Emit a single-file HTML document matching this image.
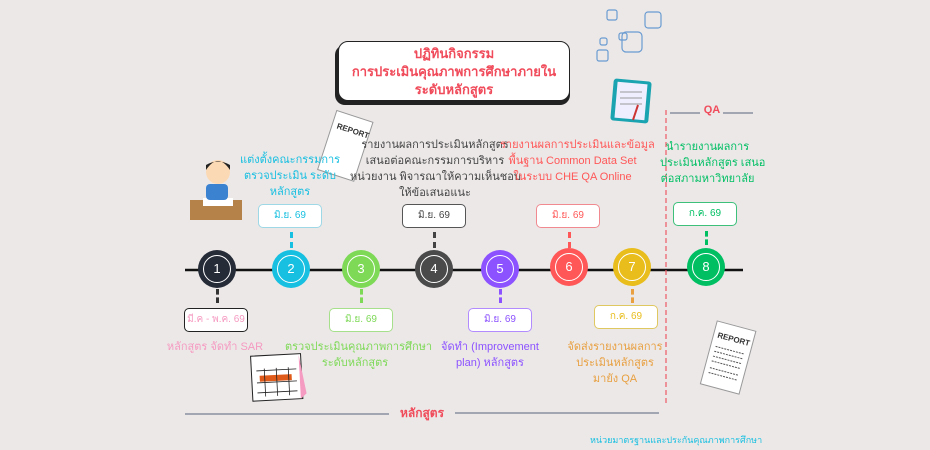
<!DOCTYPE html>
<html><head><meta charset="utf-8"><style>
body{margin:0;width:930px;height:450px;background:#ECE8E8;position:relative;overflow:hidden;font-family:"Liberation Sans","Noto Sans CJK SC",sans-serif}
.a{position:absolute;white-space:nowrap}
.t{position:absolute;text-align:center;font-size:11px;line-height:16px;white-space:nowrap}
.box{position:absolute;width:64px;height:24px;background:#fff;border-radius:5px;font-size:10px;text-align:center;line-height:22px;box-sizing:border-box;border:1.5px solid;white-space:nowrap}
.c{position:absolute;width:38px;height:38px;border-radius:50%;box-sizing:border-box}
.c span{position:absolute;left:5px;top:5px;width:28px;height:28px;border:1.5px solid #fff;border-radius:50%;box-sizing:border-box;color:#fff;font-size:13px;text-align:center;line-height:25px}
.d{position:absolute;width:0;border-left:3px dashed}
</style></head><body>
<div class="a" style="left:335px;top:45px;width:235px;height:60px;background:#222;border-radius:10px"></div>
<div class="a" style="left:338px;top:41px;width:232px;height:60px;background:#fff;border:1.5px solid #222;border-radius:10px;box-sizing:border-box;color:#F04B5A;font-weight:bold;font-size:13px;line-height:18px;text-align:center;padding-top:3px">ปฏิทินกิจกรรม<br>การประเมินคุณภาพการศึกษาภายใน<br>ระดับหลักสูตร</div>
<svg class="a" style="left:0;top:0" width="930" height="450">
<g fill="none" stroke="#6A9BD0" stroke-width="1.2">
<rect x="607" y="10" width="10" height="10" rx="2"/><rect x="645" y="12" width="16" height="16" rx="3"/><rect x="619" y="33" width="8" height="7" rx="2"/><rect x="600" y="38" width="7" height="7" rx="2"/><rect x="622" y="32" width="20" height="20" rx="4"/><rect x="597" y="50" width="11" height="11" rx="2"/></g>
<rect x="612" y="80" width="38" height="42" rx="3" fill="#1AA3B0" transform="rotate(5 631 101)"/><rect x="616" y="83" width="30" height="36" fill="#EEF" transform="rotate(5 631 101)"/><line x1="620" y1="92" x2="642" y2="92" stroke="#999"/><line x1="620" y1="98" x2="642" y2="98" stroke="#999"/><line x1="620" y1="104" x2="642" y2="104" stroke="#999"/><line x1="638" y1="105" x2="633" y2="120" stroke="#C33" stroke-width="2"/>
<g transform="rotate(18 345 150)"><rect x="325" y="115" width="38" height="62" fill="#fff" stroke="#999"/><text x="330" y="132" font-size="8" font-weight="bold" fill="#333" font-family="Liberation Sans">REPORT</text></g>
<g transform="rotate(15 728 358)"><rect x="708" y="325" width="40" height="65" fill="#fff" stroke="#999"/><text x="712" y="341" font-size="8" font-weight="bold" fill="#333" font-family="Liberation Sans">REPORT</text><g stroke="#555" stroke-width="1" stroke-dasharray="2 1"><line x1="713" y1="350" x2="743" y2="350"/><line x1="713" y1="355" x2="743" y2="355"/><line x1="713" y1="360" x2="743" y2="360"/><line x1="713" y1="365" x2="743" y2="365"/><line x1="713" y1="372" x2="743" y2="372"/><line x1="713" y1="377" x2="743" y2="377"/></g></g>
<rect x="190" y="200" width="52" height="20" fill="#B5824A"/><rect x="203" y="198" width="30" height="8" fill="#fff"/>
<circle cx="218" cy="172" r="12" fill="#FCD9B5"/><path d="M206 170 Q218 152 230 170 L230 165 Q218 158 206 165Z" fill="#222"/><rect x="206" y="184" width="22" height="16" rx="4" fill="#3B82D0"/>
<g transform="rotate(-3 275 383)"><rect x="252" y="355" width="50" height="45" fill="#fff" stroke="#222"/><polygon points="300,356 306,395 300,400" fill="#F59AC0"/><rect x="260" y="375" width="32" height="6" fill="#E05A1A"/><g stroke="#222" stroke-width=".8"><line x1="257" y1="370" x2="297" y2="370"/><line x1="257" y1="382" x2="297" y2="382"/><line x1="257" y1="392" x2="297" y2="392"/><line x1="265" y1="368" x2="265" y2="396"/><line x1="277" y1="368" x2="277" y2="396"/><line x1="289" y1="368" x2="289" y2="396"/></g></g>
<line x1="185" y1="270" x2="743" y2="270" stroke="#111" stroke-width="2.5"/>
<line x1="666" y1="110" x2="666" y2="404" stroke="#F05A66" stroke-width="1.2" stroke-dasharray="5 3"/>
<line x1="185" y1="414" x2="389" y2="414" stroke="#8890A0" stroke-width="1.5"/><line x1="455" y1="413" x2="659" y2="413" stroke="#8890A0" stroke-width="1.5"/>
<line x1="670" y1="113" x2="700" y2="113" stroke="#8890A0" stroke-width="1.5"/><line x1="723" y1="113" x2="753" y2="113" stroke="#8890A0" stroke-width="1.5"/>
</svg>
<div class="a" style="left:391px;top:404px;width:62px;text-align:center;color:#F04B5A;font-weight:bold;font-size:12px">หลักสูตร</div>
<div class="a" style="left:700px;top:104px;width:24px;text-align:center;color:#F04B5A;font-weight:bold;font-size:11px">QA</div>

<div class="d" style="left:216px;top:289px;height:14px;border-color:#333"></div>
<div class="d" style="left:290px;top:232px;height:16px;border-color:#17BFE0"></div>
<div class="d" style="left:360px;top:289px;height:14px;border-color:#7ED957"></div>
<div class="d" style="left:433px;top:232px;height:16px;border-color:#444"></div>
<div class="d" style="left:499px;top:289px;height:14px;border-color:#8C52FF"></div>
<div class="d" style="left:568px;top:232px;height:16px;border-color:#FF5757"></div>
<div class="d" style="left:631px;top:289px;height:14px;border-color:#E8A040"></div>
<div class="d" style="left:705px;top:231px;height:14px;border-color:#00BF63"></div>

<div class="c" style="left:198px;top:250px;background:#262B38"><span>1</span></div>
<div class="c" style="left:272px;top:250px;background:#17BFE0"><span>2</span></div>
<div class="c" style="left:342px;top:250px;background:#7ED957"><span>3</span></div>
<div class="c" style="left:415px;top:250px;background:#4A4A4A"><span>4</span></div>
<div class="c" style="left:481px;top:250px;background:#8C52FF"><span>5</span></div>
<div class="c" style="left:550px;top:248px;background:#FF5757"><span>6</span></div>
<div class="c" style="left:613px;top:248px;background:#E8BD1C"><span>7</span></div>
<div class="c" style="left:687px;top:248px;background:#00BF63"><span>8</span></div>

<div class="box" style="left:258px;top:204px;border-color:#9ED8E6;color:#17BFE0">มิ.ย. 69</div>
<div class="box" style="left:402px;top:204px;border-color:#555;color:#444">มิ.ย. 69</div>
<div class="box" style="left:536px;top:204px;border-color:#F08A90;color:#FF5757">มิ.ย. 69</div>
<div class="box" style="left:673px;top:202px;border-color:#3CC07A;color:#00BF63">ก.ค. 69</div>
<div class="box" style="left:184px;top:308px;border-color:#222;color:#F59AC0">มี.ค - พ.ค. 69</div>
<div class="box" style="left:329px;top:308px;border-color:#A7E08A;color:#7ED957">มิ.ย. 69</div>
<div class="box" style="left:468px;top:308px;border-color:#B28CFF;color:#8C52FF">มิ.ย. 69</div>
<div class="box" style="left:594px;top:305px;border-color:#E0C860;color:#E8BD1C">ก.ค. 69</div>

<div class="t" style="left:240px;top:152px;width:100px;color:#17BFE0">แต่งตั้งคณะกรรมการ<br>ตรวจประเมิน ระดับ<br>หลักสูตร</div>
<div class="t" style="left:350px;top:137px;width:170px;color:#444">รายงานผลการประเมินหลักสูตร<br>เสนอต่อคณะกรรมการบริหาร<br>หน่วยงาน พิจารณาให้ความเห็นชอบ<br>ให้ข้อเสนอแนะ</div>
<div class="t" style="left:500px;top:137px;width:145px;color:#FF5757">รายงานผลการประเมินและข้อมูล<br>พื้นฐาน Common Data Set<br>ในระบบ CHE QA Online</div>
<div class="t" style="left:660px;top:139px;width:95px;color:#00BF63">นำรายงานผลการ<br>ประเมินหลักสูตร เสนอ<br>ต่อสภามหาวิทยาลัย</div>
<div class="t" style="left:165px;top:339px;width:100px;color:#F59AC0">หลักสูตร จัดทำ SAR</div>
<div class="t" style="left:285px;top:339px;width:140px;color:#7ED957">ตรวจประเมินคุณภาพการศึกษา<br>ระดับหลักสูตร</div>
<div class="t" style="left:435px;top:339px;width:110px;color:#8C52FF">จัดทำ (Improvement<br>plan) หลักสูตร</div>
<div class="t" style="left:560px;top:339px;width:110px;color:#E8A040">จัดส่งรายงานผลการ<br>ประเมินหลักสูตร<br>มายัง QA</div>
<div class="a" style="left:590px;top:433px;font-size:9px;color:#17BFE0">หน่วยมาตรฐานและประกันคุณภาพการศึกษา</div>
</body></html>
